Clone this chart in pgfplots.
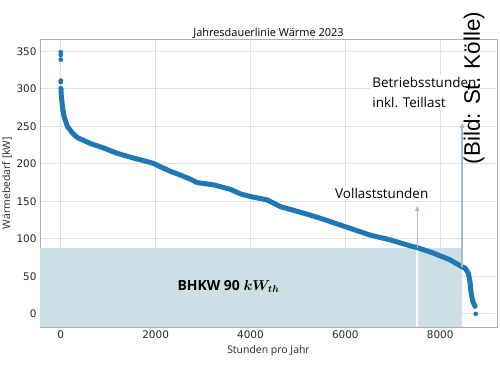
\documentclass[border=0pt]{standalone}
\usepackage{fontspec}
\setmainfont{Open Sans}
\newfontfamily\dejavu{DejaVu Sans}
\newfontfamily\libsans{Liberation Sans}
\usepackage{amsmath}
\usepackage{bm}
\usepackage{pgfplots}
\pgfplotsset{compat=1.18}
\usetikzlibrary{arrows.meta}
\definecolor{curvec}{HTML}{1F77B4}
\definecolor{fillc}{HTML}{CCDEE6}
\definecolor{arrc}{HTML}{A8BCCB}
\definecolor{gridc}{HTML}{E0E0E0}
\definecolor{framec}{HTML}{B0B0B0}
\definecolor{tickc}{HTML}{262626}
\begin{document}
\begin{tikzpicture}
\useasboundingbox (-40bp,-53bp) rectangle (460bp,327bp);
\begin{axis}[
  at={(0,0)}, anchor=south west,
  scale only axis, width=457bp, height=288bp,
  xmin=-438, xmax=9198, ymin=-17.45, ymax=366.5,
  xtick={0,2000,4000,6000,8000}, ytick={0,50,100,150,200,250,300,350},
  scaled x ticks=false,
  /pgf/number format/assume math mode=true,
  /pgf/number format/1000 sep={},
  tick label style={font=\dejavu\fontsize{10.5}{12}\selectfont, text=tickc},
  major tick length=0pt,
  grid=major, grid style={gridc, line width=0.9bp},
  axis line style={framec, line width=0.8bp},
  title={Jahresdauerlinie Wärme 2023},
  title style={font=\fontsize{11}{13}\selectfont, yshift=-9bp},
  xlabel={Stunden pro Jahr}, ylabel={Wärmebedarf [kW]},
  label style={font=\fontsize{10.5}{12}\selectfont, text=tickc},
  ylabel style={yshift=-2bp},
  clip=false,
]
\addplot[fill=fillc, draw=none] coordinates {(-438,-17.45) (-438,87.5) (8463,87.5) (8463,-17.45)} -- cycle;
\addplot[white, line width=1.6bp] coordinates {(7516,-17.45) (7516,87.5)};
\addplot[curvec, line width=5bp, line join=round, line cap=round] coordinates {
(5,300) (10,292) (35,276) (70,263) (140,250) (246,241) (351,235) (632,227)
(912,221) (1193,214) (1544,207.6) (1800,203.5) (1960,200.5) (2105,196) (2316,190) (2526,185)
(2737,179.5) (2877,175) (3228,172) (3579,166) (3789,160) (4000,156.4) (4351,152)
(4632,143) (4912,138) (5193,133) (5474,127.5) (5684,123) (6105,114) (6526,105)
(6947,98.7) (7368,90.7) (7509,88.6) (7860,81) (8210,72) (8456,63) (8526,61)
(8596,54) (8632,41) (8653,28) (8688,16.4) (8737,10)
};
\addplot[only marks, mark=*, mark size=2.1bp, curvec] coordinates {
(0,349) (0,345) (0,339) (0,311) (0,309) (0,301) (8750,0)
};
\addplot[arrc, line width=1.3bp, -{Latex[length=6bp,width=5bp]}] coordinates {(7516,88) (7516,145)};
\addplot[arrc, line width=1.3bp, -{Latex[length=6bp,width=5bp]}] coordinates {(8463,62) (8463,256)};
\node[fill=white, inner sep=2bp, font=\fontsize{13.5}{16}\selectfont] at (axis cs:6768,161) {Vollaststunden};
\node[fill=white, anchor=west, align=left, inner sep=2bp, font=\fontsize{13.5}{20}\selectfont] at (axis cs:6526,295) {Betriebsstunden\\inkl. Teillast};
\node[font=\bfseries\fontsize{14}{16}\selectfont] at (axis cs:3537,37) {BHKW 90 $\boldsymbol{kW_{th}}$};
\node[rotate=90, font=\libsans\fontsize{22.5}{26}\selectfont] at (axis cs:8716,301) {(Bild: St. Kölle)};
\end{axis}
\end{tikzpicture}
\end{document}
